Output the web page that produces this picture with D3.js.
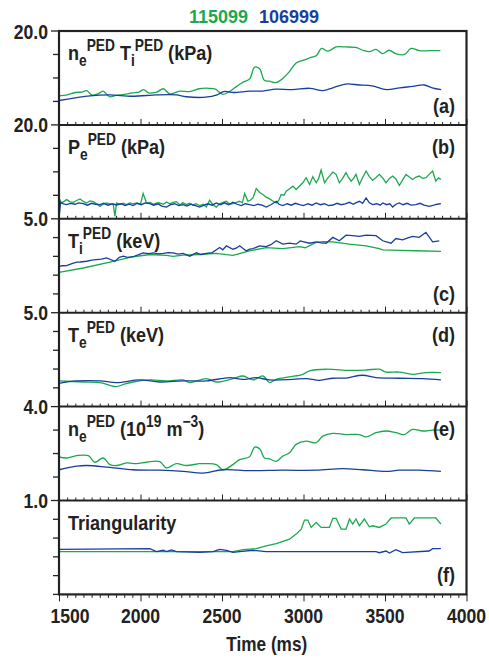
<!DOCTYPE html>
<html><head><meta charset="utf-8">
<script src="https://cdn.jsdelivr.net/npm/d3@7"></script>
<style>html,body{margin:0;padding:0;background:#fff;} text{font-family:"Liberation Sans",Arial,sans-serif;font-weight:bold;white-space:pre;}</style>
</head><body>
<svg id="c" width="489" height="663"></svg>
<script>
// ---- data (time in ms, values) ----
const xTicks = [1500, 2000, 2500, 3000, 3500, 4000];
const shotNames = ["115099", "106999"];
const panelTopLabels = ["20.0", "20.0", "5.0", "5.0", "4.0", "1.0"];
const panelMax = [20, 20, 5, 5, 4, 1];
const panelStep = [5, 5, 1, 1, 1, 0.2];

const aGreen = [[1500,6.2],[1550,6.4],[1600,6.9],[1640,7.0],[1670,7.3],[1700,6.4],[1740,6.6],[1770,7.2],[1810,6.0],[1850,6.3],[1900,6.5],[1950,6.8],[1990,7.0],[2020,7.5],[2050,6.8],[2100,7.0],[2140,7.7],[2180,6.6],[2240,7.2],[2300,7.1],[2360,7.7],[2420,7.8],[2460,7.6],[2505,6.5],[2550,7.2],[2590,8.2],[2630,9.1],[2670,9.8],[2700,12.3],[2730,12.0],[2760,9.5],[2790,9.3],[2830,9.0],[2870,9.8],[2910,11.2],[2955,13.2],[3000,13.8],[3040,14.3],[3080,14.8],[3110,16.3],[3150,15.7],[3200,16.6],[3260,16.6],[3320,16.5],[3365,15.9],[3405,15.6],[3445,16.1],[3485,15.2],[3525,15.9],[3565,15.2],[3620,15.0],[3660,16.3],[3710,15.8],[3770,15.8],[3840,15.8]];
const aBlue = [[1500,5.2],[1590,5.7],[1690,6.2],[1810,6.4],[1950,6.1],[2100,6.4],[2220,6.4],[2280,6.0],[2400,5.9],[2470,6.4],[2510,7.1],[2570,6.9],[2670,7.2],[2750,7.2],[2830,7.6],[2930,7.5],[3040,7.8],[3120,7.3],[3180,7.9],[3260,8.7],[3340,8.5],[3420,8.3],[3510,7.5],[3590,7.9],[3670,8.2],[3740,8.5],[3790,7.9],[3845,7.5]];

const bGreen = [[1500,4.44],[1516,3.37],[1547,4.09],[1568,3.6],[1588,3.51],[1608,3.9],[1629,4.23],[1649,3.7],[1669,3.37],[1690,3.8],[1710,3.66],[1731,3.2],[1751,2.65],[1771,3.1],[1792,3.37],[1812,3.2],[1833,3.01],[1843,0.5],[1853,3.37],[1873,3.1],[1894,3.3],[1914,3.01],[1935,3.4],[1955,3.2],[1976,3.37],[2000,3.1],[2016,5.38],[2037,3.37],[2060,3.5],[2080,3.1],[2100,3.4],[2118,3.37],[2140,3.1],[2160,3.6],[2180,3.2],[2200,3.5],[2220,3.66],[2240,3.0],[2260,3.4],[2282,3.01],[2300,3.3],[2320,2.9],[2340,3.2],[2363,2.8],[2384,3.1],[2404,2.5],[2424,3.94],[2445,3.0],[2465,2.5],[2486,3.2],[2506,3.5],[2527,3.73],[2547,3.1],[2567,3.23],[2588,3.5],[2608,3.73],[2625,3.4],[2639,5.38],[2659,3.73],[2675,4.0],[2690,4.44],[2710,6.45],[2731,5.6],[2751,5.16],[2771,4.6],[2792,4.23],[2812,3.8],[2833,3.37],[2848,3.9],[2863,5.16],[2880,5.0],[2894,5.88],[2915,6.4],[2935,6.95],[2955,6.24],[2976,7.0],[2996,7.67],[3016,8.75],[3037,7.31],[3057,8.96],[3078,7.67],[3093,8.6],[3108,10.39],[3129,7.67],[3145,8.5],[3159,9.1],[3180,9.96],[3200,9.46],[3220,7.67],[3240,8.6],[3261,9.82],[3276,8.8],[3292,8.03],[3307,8.6],[3322,9.46],[3343,7.31],[3363,8.8],[3384,10.18],[3404,9.0],[3424,8.17],[3445,8.8],[3465,9.46],[3486,8.7],[3506,7.67],[3527,8.6],[3547,9.1],[3567,8.5],[3588,7.1],[3608,8.3],[3629,9.46],[3649,8.9],[3669,8.39],[3690,8.9],[3710,9.1],[3731,8.6],[3751,8.75],[3771,9.46],[3792,10.18],[3812,8.03],[3828,8.7],[3843,8.39]];
const bBlue = [[1500,0.14],[1510,3.5],[1527,3.2],[1547,3.01],[1570,3.3],[1598,3.1],[1620,3.4],[1649,3.23],[1675,2.9],[1700,3.3],[1725,3.1],[1751,3.01],[1775,3.3],[1800,2.9],[1827,3.2],[1853,2.94],[1880,3.2],[1905,2.8],[1930,3.1],[1955,2.8],[1980,3.3],[2005,3.0],[2030,3.4],[2057,3.23],[2080,2.9],[2108,3.2],[2130,2.7],[2159,2.5],[2185,3.0],[2210,3.2],[2235,2.8],[2261,3.01],[2285,2.7],[2310,3.1],[2337,2.8],[2363,2.5],[2390,2.9],[2414,3.2],[2440,2.9],[2465,3.37],[2490,3.0],[2515,3.4],[2540,3.0],[2567,3.51],[2592,3.1],[2618,2.8],[2643,3.2],[2669,3.01],[2695,2.8],[2720,3.1],[2746,2.9],[2771,2.5],[2800,3.0],[2833,3.73],[2850,3.1],[2873,2.8],[2900,3.2],[2925,2.9],[2950,3.3],[2976,3.01],[3000,2.8],[3027,3.2],[3052,2.9],[3078,3.37],[3103,3.0],[3129,3.2],[3154,2.8],[3180,2.94],[3205,3.3],[3231,3.0],[3256,3.2],[3282,3.51],[3305,3.1],[3320,3.4],[3343,3.73],[3363,3.3],[3384,4.44],[3404,3.4],[3424,3.01],[3450,3.2],[3470,2.9],[3486,3.37],[3510,3.0],[3530,3.2],[3547,2.5],[3567,3.1],[3588,3.37],[3610,3.0],[3635,3.3],[3660,2.9],[3690,3.01],[3715,3.3],[3740,2.9],[3771,2.65],[3800,2.9],[3820,3.1],[3843,3.23]];

const cGreen = [[1500,2.15],[1649,2.38],[1812,2.69],[1955,2.98],[2057,3.10],[2159,3.05],[2200,3.0],[2261,3.07],[2363,3.10],[2465,3.16],[2567,3.05],[2669,3.29],[2771,3.47],[2873,3.41],[2976,3.52],[3010,3.46],[3078,3.74],[3120,3.78],[3180,3.77],[3282,3.65],[3384,3.56],[3465,3.41],[3486,3.34],[3588,3.32],[3690,3.30],[3843,3.27]];
const cBlue = [[1500,2.47],[1520,2.5],[1547,2.51],[1575,2.6],[1608,2.69],[1630,2.7],[1669,2.74],[1700,2.8],[1731,2.83],[1760,2.85],[1792,2.92],[1843,2.74],[1870,2.95],[1894,3.01],[1920,2.95],[1955,2.98],[2016,3.19],[2050,3.15],[2078,3.19],[2110,3.13],[2139,3.16],[2170,3.2],[2200,3.19],[2230,3.12],[2261,3.16],[2302,3.01],[2343,3.19],[2370,3.1],[2404,3.16],[2440,3.2],[2486,3.47],[2505,3.35],[2527,3.56],[2567,3.38],[2590,3.45],[2608,3.56],[2649,3.29],[2670,3.38],[2690,3.41],[2731,3.56],[2771,3.52],[2800,3.62],[2833,3.83],[2873,3.65],[2914,3.70],[2955,3.65],[2980,3.82],[2996,3.79],[3037,3.70],[3078,3.77],[3110,3.72],[3139,3.70],[3180,4.01],[3220,3.83],[3261,4.13],[3302,4.10],[3343,4.06],[3384,4.13],[3445,4.10],[3486,3.83],[3537,3.70],[3567,3.95],[3608,3.88],[3640,3.98],[3669,4.06],[3710,4.01],[3751,4.28],[3792,3.77],[3833,3.83]];

const dGreen = [[1500,1.37],[1649,1.31],[1760,1.26],[1812,1.13],[1853,1.06],[1900,1.2],[1955,1.31],[2057,1.42],[2159,1.37],[2261,1.42],[2302,1.28],[2404,1.49],[2465,1.31],[2567,1.49],[2629,1.63],[2690,1.42],[2751,1.63],[2792,1.28],[2833,1.45],[2914,1.58],[2996,1.72],[3037,1.90],[3139,1.99],[3282,1.93],[3384,1.95],[3465,1.99],[3506,1.84],[3588,1.84],[3669,1.72],[3751,1.81],[3843,1.81]];
const dBlue = [[1500,1.24],[1608,1.37],[1751,1.37],[1853,1.28],[1996,1.42],[2118,1.31],[2261,1.37],[2404,1.37],[2547,1.54],[2629,1.45],[2710,1.54],[2792,1.42],[2935,1.45],[3016,1.49],[3098,1.40],[3180,1.51],[3261,1.52],[3363,1.67],[3445,1.54],[3588,1.51],[3731,1.49],[3843,1.42]];

const eGreen = [[1500,1.86],[1547,1.81],[1608,1.91],[1680,1.91],[1720,1.63],[1771,1.81],[1812,1.53],[1853,1.49],[1914,1.60],[1976,1.57],[2037,1.63],[2118,1.66],[2159,1.39],[2220,1.57],[2282,1.49],[2363,1.57],[2404,1.57],[2465,1.53],[2506,1.31],[2567,1.53],[2608,1.74],[2669,1.86],[2700,2.27],[2731,2.20],[2761,1.81],[2792,1.77],[2833,1.67],[2873,1.89],[2914,2.03],[2955,2.39],[3016,2.53],[3078,2.46],[3118,2.74],[3180,2.86],[3261,2.81],[3343,2.81],[3384,2.71],[3445,2.89],[3506,2.96],[3567,2.89],[3618,2.81],[3669,3.03],[3731,2.96],[3792,3.0],[3843,3.0]];
const eBlue = [[1500,1.31],[1608,1.46],[1669,1.49],[1812,1.41],[1955,1.31],[2118,1.29],[2261,1.24],[2384,1.17],[2506,1.31],[2669,1.27],[2873,1.29],[3078,1.29],[3241,1.36],[3363,1.31],[3506,1.24],[3588,1.29],[3710,1.29],[3843,1.24]];

const fGreen = [[1500,0.455],[2567,0.455],[2629,0.477],[2710,0.487],[2771,0.516],[2833,0.541],[2914,0.588],[2955,0.642],[2986,0.695],[3006,0.792],[3027,0.792],[3047,0.713],[3078,0.767],[3108,0.713],[3159,0.713],[3180,0.81],[3200,0.81],[3231,0.695],[3261,0.695],[3282,0.803],[3302,0.749],[3322,0.803],[3343,0.731],[3373,0.803],[3404,0.72],[3424,0.731],[3465,0.713],[3506,0.749],[3537,0.814],[3629,0.814],[3649,0.749],[3680,0.814],[3812,0.814],[3843,0.749]];
const fBlue = [[1500,0.48],[2057,0.487],[2098,0.455],[2139,0.47],[2159,0.455],[2190,0.473],[2220,0.455],[2363,0.448],[2445,0.455],[2486,0.48],[2527,0.47],[2567,0.448],[2608,0.455],[2690,0.47],[2771,0.455],[3445,0.455],[3465,0.444],[3506,0.462],[3527,0.441],[3567,0.477],[3608,0.444],[3771,0.462],[3792,0.487],[3843,0.487]];

const greenSeries = [aGreen, bGreen, cGreen, dGreen, eGreen, fGreen];
const blueSeries = [aBlue, bBlue, cBlue, dBlue, eBlue, fBlue];
const smoothPanels = [true, false, false, true, true, false];

const panelLabels = [
  [{t:"n"},{t:"e",sub:1},{t:"PED",sup:1},{t:" T"},{t:"i",sub:1},{t:"PED",sup:1},{t:" (kPa)"}],
  [{t:"P"},{t:"e",sub:1},{t:"PED",sup:1},{t:" (kPa)"}],
  [{t:"T"},{t:"i",sub:1},{t:"PED",sup:1},{t:" (keV)"}],
  [{t:"T"},{t:"e",sub:1},{t:"PED",sup:1},{t:" (keV)"}],
  [{t:"n"},{t:"e",sub:1},{t:"PED",sup:1},{t:" (10"},{t:"19",sup:1},{t:" m"},{t:"\u22123",sup:1},{t:")"}],
  [{t:"Triangularity"}]
];
const panelLetters = ["(a)","(b)","(c)","(d)","(e)","(f)"];
const letterAtBottom = [true, false, true, false, false, true];

// ---- layout ----
const GREEN = "#1aa94e", BLUE = "#173f9c";
const L = 59, R = 466.5, T = 31, PH = 93.9;
const svg = d3.select("#c");
const x = d3.scaleLinear().domain([1500, 4000]).range([L, R]);
const SX = 0.86;

function stext(xp, yp, size, anchor, fill, str, sx) {
  return svg.append("text").attr("transform", `translate(${xp},${yp}) scale(${sx||SX},1)`)
    .attr("font-size", size).attr("text-anchor", anchor||"start").attr("fill", fill||"#222").text(str);
}

// title
svg.append("text").attr("x", 189).attr("y", 23).attr("font-size", 18).attr("fill", GREEN).text(shotNames[0]);
svg.append("text").attr("x", 259).attr("y", 23).attr("font-size", 18).attr("fill", BLUE).text(shotNames[1]);

for (let i = 0; i < 6; i++) {
  const top = T + i * PH, bot = top + PH;
  const y = d3.scaleLinear().domain([0, panelMax[i]]).range([bot, top]);
  const g = svg.append("g");
  const line = d3.line().x(d => x(d[0])).y(d => y(d[1]))
    .curve(smoothPanels[i] ? d3.curveCatmullRom.alpha(0.5) : d3.curveLinear);
  g.append("path").datum(greenSeries[i]).attr("d", line).attr("fill", "none").attr("stroke", GREEN).attr("stroke-width", 1.3);
  g.append("path").datum(blueSeries[i]).attr("d", line).attr("fill", "none").attr("stroke", BLUE).attr("stroke-width", 1.3);

  // left ticks (outward)
  const yt = d3.range(0, panelMax[i] + 1e-9, panelStep[i]);
  yt.forEach(v => {
    if (v === 0 && i < 5) return;
    const len = (v === panelMax[i]) ? 8 : 6;
    svg.append("line").attr("x1", L - len).attr("x2", L).attr("y1", y(v)).attr("y2", y(v))
      .attr("stroke", "#222").attr("stroke-width", 1.3);
  });
  stext(48, top + 7.5, 20, "end", "#222", panelTopLabels[i], 0.88);

  // x ticks
  if (i < 5) {
    const ax = d3.axisBottom(x).tickValues(d3.range(1500, 4001, 50)).tickSize(-3).tickFormat("");
    const ag = svg.append("g").attr("transform", `translate(0,${bot})`).call(ax);
    ag.select(".domain").remove();
    ag.selectAll(".tick line").attr("stroke", "#222").attr("stroke-width", 1)
      .attr("y2", d => (d % 500 === 0 ? -6 : -3));
  } else {
    const ax = d3.axisBottom(x).tickValues(d3.range(1500, 4001, 50)).tickSize(3).tickFormat("");
    const ag = svg.append("g").attr("transform", `translate(0,${bot})`).call(ax);
    ag.select(".domain").remove();
    ag.selectAll(".tick line").attr("stroke", "#222").attr("stroke-width", 1)
      .attr("y2", d => (d % 500 === 0 ? 7 : 3.5));
    xTicks.forEach(v => {
      const px = x(v) + (v === 1500 ? 11 : 0);
      stext(px, 623, 20, "middle", "#222", String(v), 0.88);
    });
    stext((L + R) / 2 + 4, 651, 20, "middle", "#222", "Time (ms)");
  }

  // panel label
  const lt = svg.append("text").attr("transform", `translate(68,${top + 29}) scale(${SX},1)`)
    .attr("font-size", 21).attr("fill", "#222");
  let state = 0; // 0 = base, 1 = sub, -1 = sup
  panelLabels[i].forEach(p => {
    const target = p.sub ? 1 : (p.sup ? -1 : 0);
    const pos = s => (s === 1 ? 6 : s === -1 ? -9 : 0);
    const dy = pos(target) - pos(state);
    lt.append("tspan").attr("dy", dy).attr("font-size", target === 0 ? 21 : 16).text(p.t);
    state = target;
  });

  // panel letter
  stext(455, letterAtBottom[i] ? bot - 12 : top + 29, 21, "end", "#222", panelLetters[i]);

  // separator
  if (i > 0) svg.append("line").attr("x1", L).attr("x2", R).attr("y1", top).attr("y2", top)
    .attr("stroke", "#222").attr("stroke-width", 2);
}
// frame
svg.append("rect").attr("x", L).attr("y", T).attr("width", R - L).attr("height", 6 * PH)
  .attr("fill", "none").attr("stroke", "#222").attr("stroke-width", 2.2);
</script>
</body></html>
